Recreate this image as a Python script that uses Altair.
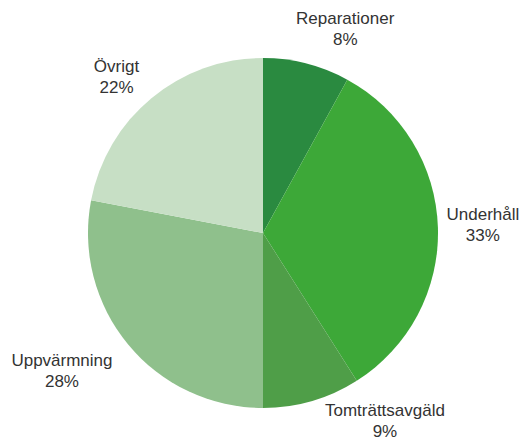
import altair as alt
import pandas as pd

categories = ["Reparationer", "Underhåll", "Tomträttsavgäld", "Uppvärmning", "Övrigt"]
values = [8, 33, 9, 28, 22]
colors = ["#2a8a40", "#3da838", "#4f9e48", "#8fc08c", "#c7dfc5"]

# label nudges (style only), pixels
label_dx = {"Reparationer": 27, "Underhåll": -2, "Tomträttsavgäld": 60, "Uppvärmning": -30, "Övrigt": -5}
label_dy = {"Reparationer": 1, "Underhåll": -11, "Tomträttsavgäld": -35, "Uppvärmning": -14, "Övrigt": 5}

df = pd.DataFrame({
    "kategori": categories,
    "andel": values,
    "ordning": list(range(len(categories))),
})
df["etikett"] = df["kategori"] + "\n" + df["andel"].astype(str) + "%"

base = alt.Chart(df).encode(
    theta=alt.Theta("andel:Q", stack=True),
    order=alt.Order("ordning:Q"),
)

pie = base.mark_arc(outerRadius=175, stroke=None).encode(
    color=alt.Color("kategori:N", scale=alt.Scale(domain=categories, range=colors), legend=None)
)

layers = [pie]
for c in categories:
    layers.append(
        base.mark_text(
            radius=222, fontSize=17, font="Liberation Sans", color="#333333",
            lineBreak="\n", lineHeight=21, align="center", baseline="middle",
            dx=label_dx[c], dy=label_dy[c],
        ).encode(
            text="etikett:N",
            opacity=alt.condition(alt.datum.kategori == c, alt.value(1), alt.value(0)),
        )
    )

chart = alt.layer(*layers).properties(
    width=510, height=410,
    autosize=alt.AutoSizeParams(type="none"),
    padding={"top": 20, "left": 0, "right": 3, "bottom": 5},
).configure_view(stroke=None, clip=False)

chart.save("out.html", embed_options={"renderer": "svg", "actions": False})
